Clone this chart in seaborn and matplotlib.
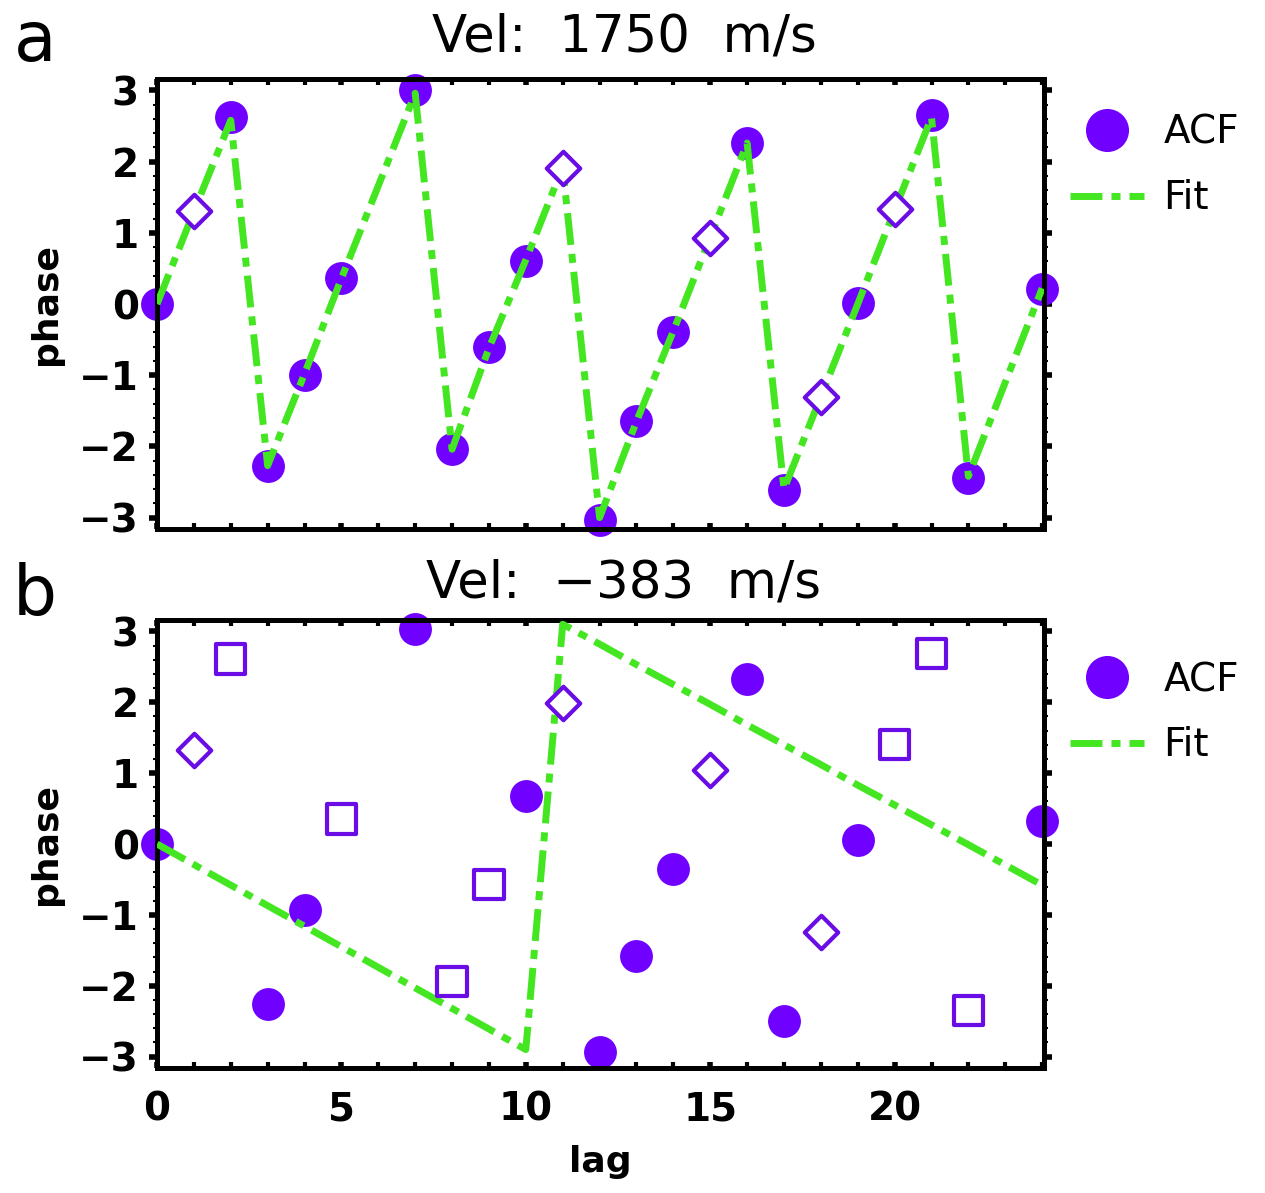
import numpy as np
import pandas as pd
import matplotlib
matplotlib.use("Agg")
import matplotlib.pyplot as plt
import seaborn as sns
from matplotlib.lines import Line2D
from matplotlib.ticker import MultipleLocator

sns.set_theme(style="white")
plt.rcParams['font.family'] = ['DejaVu Sans']
for k in ['text.color', 'axes.labelcolor', 'xtick.color', 'ytick.color']:
    plt.rcParams[k] = 'black'

# ---------------- data ----------------
lags_a = [0, 1, 2, 3, 4, 5, 7, 8, 9, 10, 11, 12, 13, 14, 15, 16, 17, 18, 19, 20, 21, 22, 24]
phase_a = [0.0, 1.30, 2.62, -2.27, -1.00, 0.36, 3.00, -2.04, -0.61, 0.60, 1.91, -3.04,
           -1.65, -0.40, 0.92, 2.26, -2.61, -1.31, 0.01, 1.34, 2.66, -2.44, 0.21]
kind_a = ['ACF', 'weak', 'ACF', 'ACF', 'ACF', 'ACF', 'ACF', 'ACF', 'ACF', 'ACF', 'weak', 'ACF',
          'ACF', 'ACF', 'weak', 'ACF', 'ACF', 'weak', 'ACF', 'weak', 'ACF', 'ACF', 'ACF']
fit_a = [0.0, 1.30, 2.58, -2.27, -0.98, 0.36, 2.96, -2.04, -0.62, 0.62, 1.92, -3.00,
         -1.65, -0.38, 0.94, 2.26, -2.60, -1.30, 0.00, 1.32, 2.62, -2.42, 0.22]

lags_b = [0, 1, 2, 3, 4, 5, 7, 8, 9, 10, 11, 12, 13, 14, 15, 16, 17, 18, 19, 20, 21, 22, 24]
phase_b = [0.0, 1.32, 2.61, -2.26, -0.93, 0.35, 3.03, -1.94, -0.57, 0.68, 1.99, -2.94,
           -1.58, -0.35, 1.04, 2.33, -2.49, -1.24, 0.06, 1.40, 2.69, -2.35, 0.32]
kind_b = ['ACF', 'weak', 'bad', 'ACF', 'ACF', 'bad', 'ACF', 'bad', 'bad', 'ACF', 'weak', 'ACF',
          'ACF', 'ACF', 'weak', 'ACF', 'ACF', 'weak', 'ACF', 'bad', 'bad', 'bad', 'ACF']
fit_b = [0.0, -0.29, -0.58, -0.87, -1.16, -1.45, -2.03, -2.32, -2.61, -2.90, 3.10, 2.82,
         2.53, 2.25, 1.97, 1.68, 1.40, 1.12, 0.83, 0.55, 0.27, -0.01, -0.58]

titles = ["Vel:  1750  m/s", "Vel:  \u2212383  m/s"]
panel_labels = ["a", "b"]
xticks = [0, 5, 10, 15, 20]
yticks = [-3, -2, -1, 0, 1, 2, 3]

PURPLE = "#7000ff"
PURPLE_EDGE = "#6a0ce6"
GREEN = "#44e622"

W, H = 1265, 1193
fig = plt.figure(figsize=(W / 100, H / 100), dpi=100)

axes_px = [(157, 79, 1044, 529), (157, 620, 1044, 1068)]
title_y = [37, 584]
label_y = [42, 595]
legend_y = [0.957, 0.943]

datasets = [(lags_a, phase_a, kind_a, fit_a), (lags_b, phase_b, kind_b, fit_b)]
DASH = [4.6, 1.3, 1.3, 1.3]

for i, (lags, phase, kind, fit) in enumerate(datasets):
    l, t, r, b = axes_px[i]
    ax = fig.add_axes([l / W, 1 - b / H, (r - l) / W, (b - t) / H])
    df = pd.DataFrame({"lag": lags, "phase": phase, "kind": kind, "fit": fit})

    sns.lineplot(data=df, x="lag", y="fit", ax=ax, color=GREEN, lw=5,
                 dashes=False, zorder=3)
    ax.lines[-1].set_dashes(DASH)
    ax.lines[-1].set_dash_capstyle('butt')

    d = df[df.kind == "ACF"]
    sns.scatterplot(data=d, x="lag", y="phase", ax=ax, marker="o", s=560,
                    color=PURPLE, linewidth=0, zorder=2, clip_on=False)
    d = df[df.kind == "weak"]
    sns.scatterplot(data=d, x="lag", y="phase", ax=ax, marker="D", s=290,
                    facecolor="white", edgecolor=PURPLE_EDGE, linewidth=3.0, zorder=4,
                    clip_on=False)
    d = df[df.kind == "bad"]
    if len(d):
        sns.scatterplot(data=d, x="lag", y="phase", ax=ax, marker="s", s=450,
                        facecolor="none", edgecolor=PURPLE_EDGE, linewidth=3.0, zorder=4,
                        clip_on=False)

    ax.set_xlim(0, 24.05)
    ax.set_ylim(-3.16, 3.16)
    ax.set_xticks(xticks)
    ax.set_yticks(yticks)
    ax.xaxis.set_minor_locator(MultipleLocator(1))
    ax.yaxis.set_minor_locator(MultipleLocator(0.2))
    ax.tick_params(axis='x', which='both', direction='in', top=True, bottom=True,
                   length=4, width=4, color='black')
    ax.tick_params(axis='x', which='minor', length=4, width=3)
    ax.tick_params(axis='y', which='major', direction='out', left=True, right=True,
                   length=6, width=4, color='black', pad=7)
    ax.tick_params(axis='y', which='minor', direction='out', left=True, right=True,
                   length=3, width=1.5, color='black')
    for s in ax.spines.values():
        s.set_linewidth(3.6)
        s.set_color('black')
    ax.set_yticklabels([str(v).replace('-', '\u2212') for v in yticks],
                       fontsize=28, fontweight='bold')
    if i == 0:
        ax.set_xticklabels([])
        ax.set_xlabel("")
    else:
        ax.set_xticklabels([str(v) for v in xticks], fontsize=28, fontweight='bold')
        ax.tick_params(axis='x', pad=16)
        ax.set_xlabel("lag", fontsize=26, fontweight='bold', labelpad=12)
    ax.set_ylabel("phase", fontsize=26, fontweight='bold', labelpad=12)

    handles = [Line2D([], [], marker='o', ls='none', color=PURPLE, markersize=31,
                      markeredgewidth=0),
               Line2D([], [], color=GREEN, lw=5, dashes=DASH)]
    ax.legend(handles, ["ACF", "Fit"], loc='upper left',
              bbox_to_anchor=(1.012, legend_y[i]),
              frameon=False, fontsize=28, handlelength=1.9, handletextpad=0.5,
              labelspacing=0.7, borderaxespad=0)

    fig.text(624 / W, 1 - title_y[i] / H, titles[i], ha='center', va='center',
             fontsize=37)
    fig.text(35 / W, 1 - label_y[i] / H, panel_labels[i], ha='center', va='center',
             fontsize=50)

fig.savefig("out.png", dpi=100, facecolor='white')
